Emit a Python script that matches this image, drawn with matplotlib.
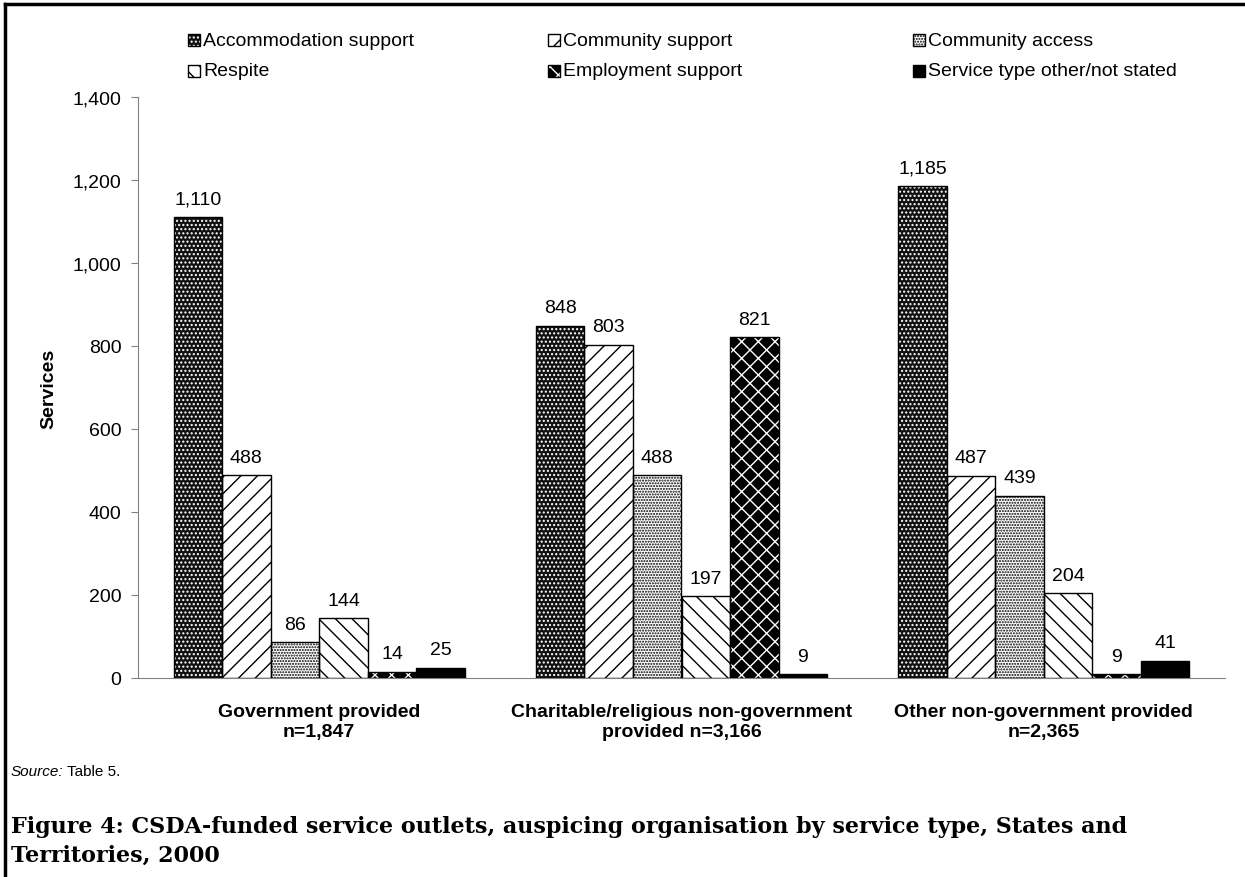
import numpy as np
import matplotlib
matplotlib.use('Agg')
from matplotlib import pyplot as plt
from matplotlib.patches import Rectangle
from matplotlib.lines import Line2D

plt.rcParams['font.family'] = ['Liberation Sans', 'DejaVu Sans']
plt.rcParams['hatch.linewidth'] = 1.0

categories = ['Government provided\nn=1,847',
              'Charitable/religious non-government\nprovided n=3,166',
              'Other non-government provided\nn=2,365']
series = ['Accommodation support', 'Community support', 'Community access',
          'Respite', 'Employment support', 'Service type other/not stated']
accommodation = [1110, 848, 1185]
community_support = [488, 803, 487]
community_access = [86, 488, 439]
respite = [144, 197, 204]
employment = [14, 821, 9]
other = [25, 9, 41]
values = [accommodation, community_support, community_access, respite, employment, other]

# face colour, hatch, hatch colour for each series
styles = [('#111111', '....', 'white'),
          ('white', '//', 'black'),
          ('white', '......', 'black'),
          ('white', '\\\\', 'black'),
          ('black', 'xx', 'white'),
          ('black', '', 'black')]

W, H = 1245, 878
fs = 14
fig = plt.figure(figsize=(W/100, H/100), dpi=100)
ax = fig.add_axes([138/W, 1 - 679/H, (1225-138)/W, (679-98)/H])

x = np.arange(len(categories))
width = 0.804 / 6
for i, (vals, (fc, hatch, hc)) in enumerate(zip(values, styles)):
    pos = x - 0.402 + width * (i + 0.5)
    ax.bar(pos, vals, width, color=fc, hatch=hatch, edgecolor=hc, linewidth=0, zorder=2)
    ax.bar(pos, vals, width, fill=False, edgecolor='black', linewidth=1, zorder=3)
    for p, v in zip(pos, vals):
        ax.annotate(f'{v:,}', (p, v), xytext=(0, 7), textcoords='offset points',
                    ha='center', va='bottom', fontsize=fs)

ax.set_xlim(-0.5, 2.5)
ax.set_ylim(0, 1400)
ax.set_yticks(range(0, 1401, 200))
ax.set_yticklabels([f'{t:,}' for t in range(0, 1401, 200)], fontsize=fs)
ax.set_xticks(x)
ax.set_xticklabels(categories, fontsize=fs, fontweight='bold', linespacing=1.25)
ax.tick_params(axis='x', length=0, pad=18)
ax.tick_params(axis='y', length=5, color='#808080', pad=7)
for s in ['top', 'right']:
    ax.spines[s].set_visible(False)
ax.spines['left'].set_color('#808080')
ax.spines['bottom'].set_color('#808080')
ax.set_ylabel('Services', fontsize=fs, fontweight='bold', labelpad=11)

# legend drawn by hand: 2 rows x 3 equal columns
for col, xm in enumerate([188, 548, 913]):
    for row, ym in enumerate([41, 72]):
        i = row * 3 + col
        fc, hatch, hc = styles[i]
        fig.add_artist(Rectangle((xm/W, 1 - (ym + 6)/H), 12/W, 12/H, transform=fig.transFigure,
                                 facecolor=fc, hatch=hatch, edgecolor=hc, linewidth=0))
        fig.add_artist(Rectangle((xm/W, 1 - (ym + 6)/H), 12/W, 12/H, transform=fig.transFigure,
                                 fill=False, edgecolor='black', linewidth=1))
        fig.text((xm + 15)/W, 1 - ym/H, series[i], fontsize=fs, va='center')

fig.add_artist(Line2D([5/W, 1], [1 - 5/H, 1 - 5/H], color='black', lw=2.5))
fig.add_artist(Line2D([5/W, 5/W], [0, 1 - 5/H], color='black', lw=2.5))

fig.text(11/W, 1 - 772/H, 'Source:', fontsize=11, style='italic', va='center')
fig.text(67/W, 1 - 772/H, 'Table 5.', fontsize=11, va='center')
fig.text(11/W, 1 - 827/H,
         'Figure 4: CSDA-funded service outlets, auspicing organisation by service type, States and',
         fontsize=16, fontweight='bold', family='DejaVu Serif', va='center')
fig.text(11/W, 1 - 856/H, 'Territories, 2000',
         fontsize=16, fontweight='bold', family='DejaVu Serif', va='center')

fig.savefig('out.png', dpi=100)
